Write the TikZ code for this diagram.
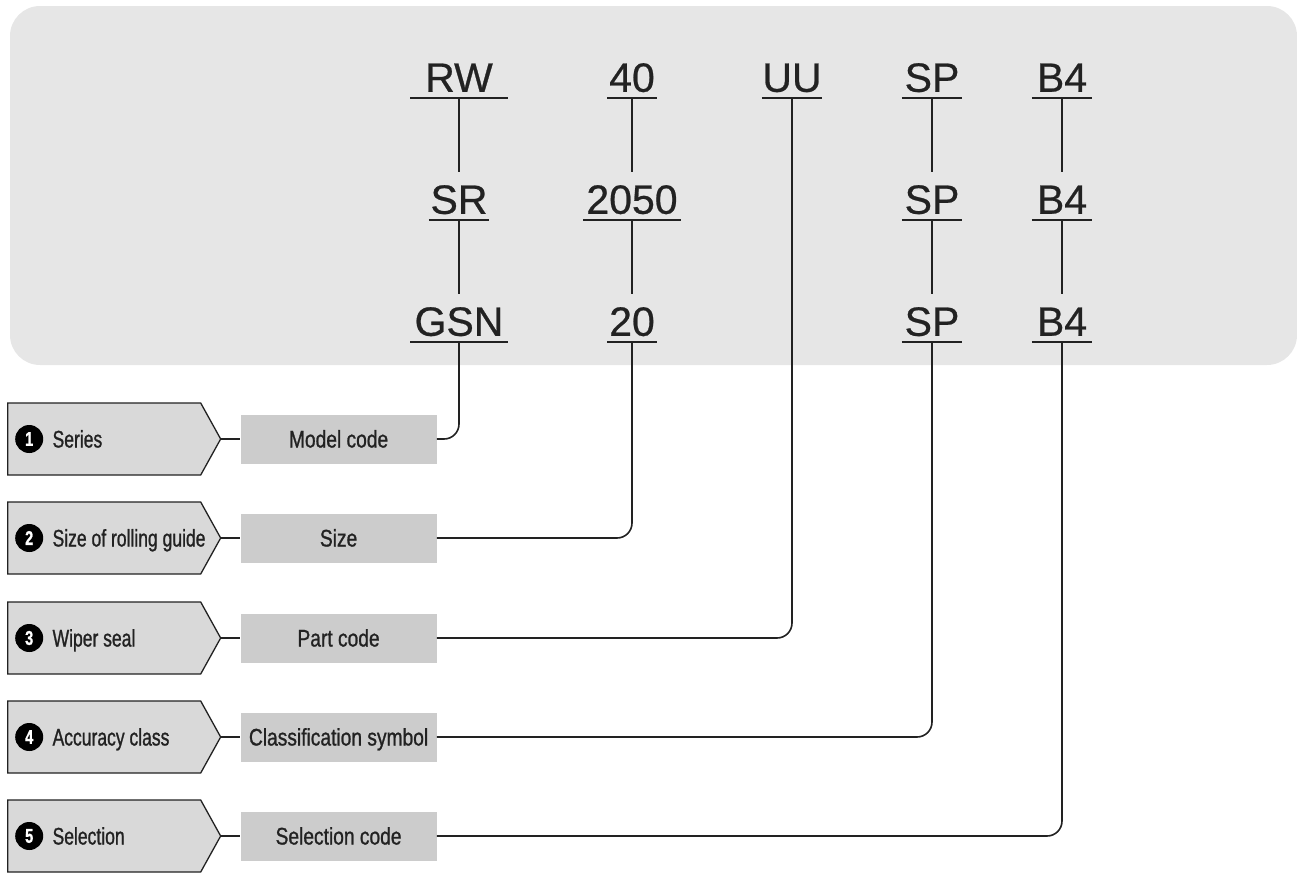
\documentclass[tikz,border=0pt]{standalone}
\usepackage{fontspec}
\setmainfont{Liberation Sans}
\newfontfamily\condfont[FakeStretch=0.8,FakeBold=1]{Liberation Sans}
\newfontfamily\tagfont[FakeStretch=0.73,FakeBold=1]{Liberation Sans}
\newfontfamily\codefont[FakeBold=0.6]{Liberation Sans}
\usetikzlibrary{positioning, shapes.symbols}
\definecolor{panelbg}{RGB}{230,230,230}
\definecolor{tagbg}{RGB}{217,217,217}
\definecolor{keybg}{RGB}{204,204,204}
\definecolor{inkclr}{RGB}{34,34,34}

\begin{document}
\begin{tikzpicture}[
    x=1pt, y=-1pt,
    font=\condfont\fontsize{24}{28}\selectfont,
    text=inkclr,
    % --- node styles ---
    code/.style   ={anchor=south, inner xsep=0pt, inner ysep=6pt,
                    text height=36pt, text depth=0pt, minimum width=#1,
                    font=\codefont\fontsize{41}{44}\selectfont},
    tag/.style    ={signal, signal to=east, signal pointer angle=122,
                    draw=inkclr, line width=1.3pt, fill=tagbg, anchor=west,
                    minimum width=213pt, minimum height=72pt, inner sep=0pt},
    numdot/.style ={circle, fill=black, text=white, minimum size=28pt,
                    inner sep=0pt, font=\tagfont\bfseries\fontsize{20}{20}\selectfont},
    tagtext/.style={inner sep=0pt, text height=17pt, text depth=0pt,
                    font=\tagfont\fontsize{24}{28}\selectfont},
    key/.style    ={fill=keybg, minimum width=196pt, minimum height=49pt,
                    inner sep=0pt, text height=17pt, text depth=0pt},
    % --- wire styles ---
    rule/.style   ={draw=inkclr, line width=2pt},
    wire/.style   ={draw=inkclr, line width=1.6pt},
    elbow/.style  ={wire, rounded corners=15pt},
]
\useasboundingbox (0,0) rectangle (1297,873);

% =============== code panel ===============
\fill[panelbg, rounded corners=30pt] (10,6) rectangle (1297,365);

\node[code=97pt] (rw)    at (459,98)  {RW};
\node[code=60pt] (sr)    at (459,220) {SR};
\node[code=97pt] (gsn)   at (459,342) {GSN};
\node[code=49pt] (n40)   at (632,98)  {40};
\node[code=97pt] (n2050) at (632,220) {2050};
\node[code=49pt] (n20)   at (632,342) {20};
\node[code=60pt] (uu)    at (792,98)  {UU};
\node[code=60pt] (spa)   at (932,98)  {SP};
\node[code=60pt] (spb)   at (932,220) {SP};
\node[code=60pt] (spc)   at (932,342) {SP};
\node[code=60pt] (b4a)   at (1062,98)  {B4};
\node[code=60pt] (b4b)   at (1062,220) {B4};
\node[code=60pt] (b4c)   at (1062,342) {B4};

\foreach \c in {rw,sr,gsn,n40,n2050,n20,uu,spa,spb,spc,b4a,b4b,b4c}
  \draw[rule] (\c.south west) -- (\c.south east);

\draw[wire] (rw.south)    -- (sr.north);
\draw[wire] (sr.south)    -- (gsn.north);
\draw[wire] (n40.south)   -- (n2050.north);
\draw[wire] (n2050.south) -- (n20.north);
\draw[wire] (spa.south)   -- (spb.north);
\draw[wire] (spb.south)   -- (spc.north);
\draw[wire] (b4a.south)   -- (b4b.north);
\draw[wire] (b4b.south)   -- (b4c.north);

% =============== item tags ===============
\node[tag] (tag1) at (7,439) {};
\node[numdot, right=8pt of tag1.west] (dot1) {1};
\node[tagtext, right=9pt of dot1] (txt1) {Series};
\node[key, right=19pt of tag1] (key1) {Model code};

\node[tag] (tag2) at (7,538) {};
\node[numdot, right=8pt of tag2.west] (dot2) {2};
\node[tagtext, right=9pt of dot2] (txt2) {Size of rolling guide};
\node[key, right=19pt of tag2] (key2) {Size};

\node[tag] (tag3) at (7,638) {};
\node[numdot, right=8pt of tag3.west] (dot3) {3};
\node[tagtext, right=9pt of dot3] (txt3) {Wiper seal};
\node[key, right=19pt of tag3] (key3) {Part code};

\node[tag] (tag4) at (7,737) {};
\node[numdot, right=8pt of tag4.west] (dot4) {4};
\node[tagtext, right=9pt of dot4] (txt4) {Accuracy class};
\node[key, right=19pt of tag4] (key4) {Classification symbol};

\node[tag] (tag5) at (7,836) {};
\node[numdot, right=8pt of tag5.west] (dot5) {5};
\node[tagtext, right=9pt of dot5] (txt5) {Selection};
\node[key, right=19pt of tag5] (key5) {Selection code};

% =============== wires ===============
\draw[wire] (tag1.east) -- (key1.west);
\draw[wire] (tag2.east) -- (key2.west);
\draw[wire] (tag3.east) -- (key3.west);
\draw[wire] (tag4.east) -- (key4.west);
\draw[wire] (tag5.east) -- (key5.west);

\draw[elbow] (key1.east) -| (gsn.south);
\draw[elbow] (key2.east) -| (n20.south);
\draw[elbow] (key3.east) -| (uu.south);
\draw[elbow] (key4.east) -| (spc.south);
\draw[elbow] (key5.east) -| (b4c.south);

\end{tikzpicture}
\end{document}
